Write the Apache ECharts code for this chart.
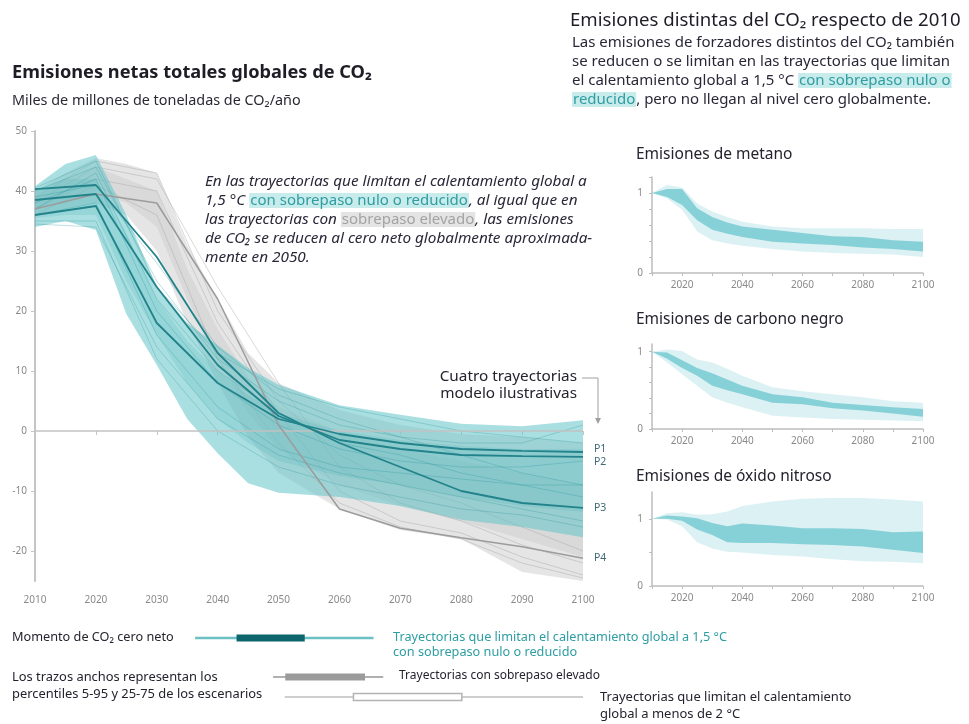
<!DOCTYPE html>
<html>
<head>
<meta charset="utf-8">
<script src="https://cdn.jsdelivr.net/npm/echarts@6/dist/echarts.min.js"></script>
<style>
html, body { margin: 0; padding: 0; background: #fff; }
#chart { width: 969px; height: 724px; }
</style>
</head>
<body>
<div id="chart"></div>
<script>
// ---- datos ----
// emisiones netas de CO2 (Gt CO2/año)
const bandYears = [2010, 2015, 2020, 2025, 2030, 2035, 2040, 2045, 2050, 2060, 2070, 2080, 2090, 2100];
const tealHi   = [40.8, 44.5, 46, 36, 24, 18, 14.3, 10.5, 7.7, 4.3, 2.7, 1.2, 0.8, 1.8];
const tealLo   = [34, 35, 33.5, 19.5, 11, 2, -3.7, -8.7, -10.3, -11, -12.5, -14.8, -16, -17.7];
const tealInHi = [40, 42, 42, 33, 22, 15, 10, 6, 3, 0, -1.5, -2.5, -3, -3];
const tealInLo = [35.5, 36, 36, 25, 16, 8, 2, -2, -5, -7.5, -9, -11, -12.5, -13.5];
const grayHi   = [40, 43, 45.5, 44.5, 43, 31, 22, 13, 8, 3.5, 1, -0.5, -1, -2];
const grayLo   = [36, 37, 38, 36, 30, 18, 8, -1, -7, -13, -16.5, -18, -23.5, -25];
const grayInHi = [39, 42, 44, 42, 40, 27, 17, 9, 4, 0, -3, -5, -7, -9];
const grayInLo = [37, 38, 40, 38, 34, 22, 12, 3, -3, -9, -12.5, -15, -18, -21];

const years = [2010, 2020, 2030, 2040, 2050, 2060, 2070, 2080, 2090, 2100];
const p1 = [36, 37.5, 18, 8, 2, -0.5, -2, -3, -3.3, -3.5];
const p2 = [38.5, 39.5, 24, 11, 2.5, -1.5, -3, -4, -4.2, -4.3];
const p3 = [40.3, 41, 29, 13, 3, -2, -6, -10, -12, -12.8];
const p4 = [37, 39.5, 38, 22, 1, -13, -16.2, -17.8, -19.3, -21.2];

// escenarios individuales (trazos finos)
const tealRuns = [
  [40, 44, 25, 12, 5, 1, -1, -2, -2, 1],
  [38, 42, 20, 8, 1, -3, -5, -6, -6, -5],
  [36, 38, 16, 4, -3, -6, -7, -8, -9, -9],
  [35, 35, 12, 0, -6, -9, -11, -13, -14, -16],
  [39, 41, 28, 14, 6, 2, -1, -4, -7, -9],
  [37, 43, 22, 10, 3, -2, -4, -7, -9, -11],
  [34.5, 34, 14, 2, -4, -7, -9, -11, -13, -15],
  [40.5, 45, 24, 13, 7, 4, 2, 0, -1, -2]
];
const grayRuns = [
  [38, 44, 42, 24, 8, -6, -12, -15, -19, -22],
  [37, 42, 40, 18, 3, -10, -15, -17, -21, -24],
  [39, 45, 43, 20, 5, -4, -9, -12, -16, -20],
  [36, 41, 36, 12, -2, -12, -16, -18, -22, -24.5]
];

// emisiones distintas del CO2, relativas a 2010
const smallYears = [2010, 2015, 2020, 2025, 2030, 2035, 2040, 2050, 2060, 2070, 2080, 2090, 2100];
const metInHi  = [1, 1.05, 1.05, 0.81, 0.70, 0.63, 0.58, 0.54, 0.50, 0.46, 0.45, 0.41, 0.39];
const metInLo  = [1, 0.95, 0.85, 0.66, 0.54, 0.49, 0.45, 0.39, 0.37, 0.35, 0.32, 0.30, 0.27];
const metOutHi = [1, 1.10, 1.07, 0.87, 0.77, 0.70, 0.64, 0.58, 0.56, 0.56, 0.56, 0.55, 0.55];
const metOutLo = [1, 0.93, 0.79, 0.52, 0.41, 0.37, 0.34, 0.30, 0.27, 0.25, 0.24, 0.23, 0.20];

const cbInHi  = [1, 0.99, 0.89, 0.79, 0.72, 0.64, 0.56, 0.45, 0.41, 0.34, 0.31, 0.28, 0.26];
const cbInLo  = [1, 0.91, 0.79, 0.69, 0.56, 0.50, 0.45, 0.34, 0.32, 0.27, 0.24, 0.20, 0.16];
const cbOutHi = [1, 1.03, 1.01, 0.90, 0.86, 0.78, 0.69, 0.54, 0.49, 0.45, 0.41, 0.36, 0.34];
const cbOutLo = [1, 0.86, 0.71, 0.56, 0.41, 0.34, 0.28, 0.17, 0.15, 0.13, 0.12, 0.11, 0.10];

const n2oInHi  = [1, 1.05, 1.035, 1.01, 0.94, 0.89, 0.93, 0.90, 0.86, 0.86, 0.85, 0.80, 0.81];
const n2oInLo  = [1, 1.0, 0.97, 0.84, 0.76, 0.65, 0.64, 0.64, 0.62, 0.61, 0.59, 0.54, 0.49];
const n2oOutHi = [1, 1.085, 1.10, 1.06, 1.07, 1.11, 1.19, 1.26, 1.30, 1.31, 1.31, 1.29, 1.26];
const n2oOutLo = [1, 0.99, 0.89, 0.65, 0.56, 0.51, 0.50, 0.46, 0.44, 0.40, 0.37, 0.36, 0.34];

// momento de CO2 cero neto (años): percentiles 5-95 y 25-75
const zeroTeal5_95 = [2036.3, 2065.6];
const zeroTeal25_75 = [2043.1, 2054.3];
const zeroGray5_95 = [2049.1, 2067.2];
const zeroGray25_75 = [2051.1, 2064.2];
const zero2C5_95 = [2051, 2100];
const zero2C25_75 = [2062.3, 2080.1];

const mainYTicks = [-20, -10, 0, 10, 20, 30, 40, 50];
const smallXLabels = [2020, 2040, 2060, 2080, 2100];

const FONT = '"Noto Sans", "Open Sans", sans-serif';
const TXT = '#24232e';

// banda rellena entre dos curvas
function band(axis, xs, hi, lo, fill, z) {
  return {
    type: 'custom', xAxisIndex: axis, yAxisIndex: axis, silent: true, z: z || 2,
    data: [[xs[0], hi[0]]],
    renderItem: function (params, api) {
      let pts = [];
      for (let i = 0; i < xs.length; i++) pts.push(api.coord([xs[i], hi[i]]));
      for (let i = xs.length - 1; i >= 0; i--) pts.push(api.coord([xs[i], lo[i]]));
      return { type: 'polygon', shape: { points: pts }, style: { fill: fill } };
    }
  };
}

function run(vals, color, width, z) {
  return {
    type: 'line', xAxisIndex: 0, yAxisIndex: 0, silent: true, symbol: 'none', z: z || 3,
    data: years.map((y, i) => [y, vals[i]]),
    lineStyle: { color: color, width: width }
  };
}

function pLine(vals, name, color, width, offY) {
  let s = run(vals, color, width, 5);
  s.endLabel = { show: true, formatter: name, color: '#3e6a77', fontSize: 10.5, fontFamily: FONT, offset: [3, offY] };
  return s;
}

// fila de la leyenda de cero neto
function rangeRow(axis, range, core, thinColor, thinW, fill, stroke) {
  return [
    {
      type: 'line', xAxisIndex: axis, yAxisIndex: axis, silent: true, symbol: 'none',
      data: [[range[0], 0], [range[1], 0]], lineStyle: { color: thinColor, width: thinW }
    },
    {
      type: 'custom', xAxisIndex: axis, yAxisIndex: axis, silent: true, z: 4,
      data: [[core[0], 0]],
      renderItem: function (params, api) {
        const a = api.coord([core[0], 0]);
        const b = api.coord([core[1], 0]);
        return {
          type: 'rect', shape: { x: a[0], y: a[1] - 3.5, width: b[0] - a[0], height: 7 },
          style: { fill: fill, stroke: stroke, lineWidth: stroke ? 1.5 : 0 }
        };
      }
    }
  ];
}

function smallX(i) {
  return {
    gridIndex: i, type: 'value', min: 2010, max: 2100, interval: 10,
    axisLine: { lineStyle: { color: '#bdbdbd', width: 1.5 } },
    axisTick: { length: 3, lineStyle: { color: '#bdbdbd' } },
    axisLabel: { customValues: smallXLabels, formatter: v => String(v), color: '#8a8a8a', fontSize: 10, fontFamily: FONT, margin: 7 },
    splitLine: { show: false }
  };
}
function smallY(i, max, step) {
  let ticks = [];
  for (let v = 0; v <= max + 1e-9; v += step) ticks.push(Math.round(v * 10) / 10);
  return {
    gridIndex: i, type: 'value', min: 0, max: max,
    axisLine: { show: true, lineStyle: { color: '#bdbdbd', width: 1.5 } },
    axisTick: { show: true, length: 3, customValues: ticks, lineStyle: { color: '#bdbdbd' } },
    axisLabel: { customValues: [0, 1], color: '#8a8a8a', fontSize: 10, fontFamily: FONT, margin: 9 },
    splitLine: { show: false }
  };
}
function hiddenX(i) { return { gridIndex: i, type: 'value', min: 2010, max: 2100, show: false }; }
function hiddenY(i) { return { gridIndex: i, type: 'value', min: -1, max: 1, show: false }; }

const TEAL_OUT = 'rgba(100,196,200,0.55)';
const TEAL_IN = 'rgba(70,178,184,0.20)';
const SM_OUT = 'rgba(150,212,218,0.33)';
const SM_IN = 'rgba(105,198,205,0.75)';

let series = [
  // línea de cero
  {
    type: 'line', xAxisIndex: 0, yAxisIndex: 0, data: [], z: 1,
    markLine: { silent: true, symbol: 'none', label: { show: false },
      lineStyle: { color: '#c2c2c2', width: 1.5, type: 'solid' }, data: [{ yAxis: 0 }] }
  },
  band(0, bandYears, grayHi, grayLo, 'rgba(208,208,208,0.55)', 2),
  band(0, bandYears, grayInHi, grayInLo, 'rgba(190,190,190,0.3)', 2)
];
grayRuns.forEach(r => series.push(run(r, 'rgba(160,160,160,0.4)', 1, 2)));
series.push(band(0, bandYears, tealHi, tealLo, TEAL_OUT, 3));
series.push(band(0, bandYears, tealInHi, tealInLo, TEAL_IN, 3));
tealRuns.forEach(r => series.push(run(r, 'rgba(40,150,156,0.3)', 1, 3)));
series.push(pLine(p4, 'P4', '#9c9c9c', 1.5, 0));
series.push(pLine(p1, 'P1', '#23838a', 1.8, -3));
series.push(pLine(p2, 'P2', '#23838a', 1.8, 5));
series.push(pLine(p3, 'P3', '#23838a', 1.8, 0));

// gráficos pequeños
series.push(band(1, smallYears, metOutHi, metOutLo, SM_OUT));
series.push(band(1, smallYears, metInHi, metInLo, SM_IN));
series.push(band(2, smallYears, cbOutHi, cbOutLo, SM_OUT));
series.push(band(2, smallYears, cbInHi, cbInLo, SM_IN));
series.push(band(3, smallYears, n2oOutHi, n2oOutLo, SM_OUT));
series.push(band(3, smallYears, n2oInHi, n2oInLo, SM_IN));

// leyenda cero neto
series = series.concat(rangeRow(4, zeroTeal5_95, zeroTeal25_75, '#6cc0c4', 2.5, '#0d666b', null));
series = series.concat(rangeRow(5, zeroGray5_95, zeroGray25_75, '#b0b0b0', 2, '#9b9b9b', null));
series = series.concat(rangeRow(6, zero2C5_95, zero2C25_75, '#cfcfcf', 2, '#ffffff', '#b3b3b3'));

function txt(x, y, text, size, color, extra) {
  return {
    type: 'text', x: x, y: y, silent: true,
    style: Object.assign({ text: text, fill: color || TXT, fontSize: size, fontFamily: FONT, verticalAlign: 'middle' }, extra || {})
  };
}

const hlTeal = { fill: '#2f9da1', backgroundColor: '#c8ebeb', fontSize: 15, fontFamily: FONT, lineHeight: 19, padding: [0, 1] };

const graphics = [
  txt(12, 73, 'Emisiones netas totales globales de CO₂', 18.2, '#1e1d26', { fontWeight: 'bold' }),
  txt(12, 101, 'Miles de millones de toneladas de CO₂/año', 14.4, '#2a2933'),
  txt(570, 21, 'Emisiones distintas del CO₂ respecto de 2010', 18.6, '#1e1d26'),
  {
    type: 'text', x: 572, y: 33, silent: true,
    style: {
      text: '{n|Las emisiones de forzadores distintos del CO₂ también}\n' +
            '{n|se reducen o se limitan en las trayectorias que limitan}\n' +
            '{n|el calentamiento global a 1,5 °C }{t|con sobrepaso nulo o}\n' +
            '{t|reducido}{n|, pero no llegan al nivel cero globalmente.}',
      fontFamily: FONT, fontSize: 15, lineHeight: 19,
      rich: {
        n: { fill: '#2a2838', fontSize: 15, fontFamily: FONT, lineHeight: 19 },
        t: hlTeal
      }
    }
  },
  txt(636, 155, 'Emisiones de metano', 15.5, '#24232e'),
  txt(636, 320, 'Emisiones de carbono negro', 15.5, '#24232e'),
  txt(636, 477, 'Emisiones de óxido nitroso', 15.5, '#24232e'),
  {
    type: 'text', x: 205, y: 172, silent: true,
    style: {
      text: '{i|En las trayectorias que limitan el calentamiento global a}\n' +
            '{i|1,5 °C }{t|con sobrepaso nulo o reducido}{i|, al igual que en}\n' +
            '{i|las trayectorias con }{g|sobrepaso elevado}{i|, las emisiones}\n' +
            '{i|de CO₂ se reducen al cero neto globalmente aproximada-}\n' +
            '{i|mente en 2050.}',
      fontFamily: FONT, fontSize: 15, lineHeight: 19,
      rich: {
        i: { fill: '#2a2838', fontStyle: 'italic', fontSize: 15.3, fontFamily: FONT, lineHeight: 19 },
        t: hlTeal,
        g: { fill: '#a3a3a3', backgroundColor: '#e4e4e4', fontSize: 15, fontFamily: FONT, lineHeight: 19, padding: [0, 1] }
      }
    }
  },
  {
    type: 'text', x: 577, y: 368, silent: true,
    style: { text: 'Cuatro trayectorias\nmodelo ilustrativas', fill: '#24232e', fontSize: 15.3, fontFamily: FONT,
      lineHeight: 17, align: 'right', verticalAlign: 'top' }
  },
  {
    type: 'polyline', silent: true,
    shape: { points: [[582, 378], [598, 378], [598, 419]] },
    style: { stroke: '#a0a0a0', lineWidth: 1, fill: null }
  },
  {
    type: 'polygon', silent: true,
    shape: { points: [[595, 418], [601, 418], [598, 424]] },
    style: { fill: '#a0a0a0' }
  },
  txt(12, 637, 'Momento de CO₂ cero neto', 12.7),
  txt(12, 677, 'Los trazos anchos representan los', 12.9),
  txt(12, 694, 'percentiles 5-95 y 25-75 de los escenarios', 12.9),
  txt(393, 637, 'Trayectorias que limitan el calentamiento global a 1,5 °C', 12.7, '#2d9ea2'),
  txt(393, 652, 'con sobrepaso nulo o reducido', 12.7, '#2d9ea2'),
  txt(399, 676, 'Trayectorias con sobrepaso elevado', 12),
  txt(600, 697, 'Trayectorias que limitan el calentamiento', 13),
  txt(600, 714, 'global a menos de 2 °C', 13)
];

const option = {
  backgroundColor: '#fff',
  animation: false,
  grid: [
    { left: 35, top: 131, width: 548, height: 450 },
    { left: 652, top: 177, width: 271, height: 96 },
    { left: 652, top: 344, width: 271, height: 85 },
    { left: 652, top: 492, width: 271, height: 94 },
    { left: 35, top: 632, width: 548, height: 12 },
    { left: 35, top: 671, width: 548, height: 12 },
    { left: 35, top: 691, width: 548, height: 12 }
  ],
  xAxis: [
    {
      gridIndex: 0, type: 'value', min: 2010, max: 2100, interval: 10,
      axisLine: { show: false },
      axisTick: { show: true, length: 4, lineStyle: { color: '#c4c4c4' } },
      axisLabel: { formatter: v => String(v), color: '#8a8a8a', fontSize: 10, fontFamily: FONT, margin: 14 },
      splitLine: { show: false }
    },
    smallX(1), smallX(2), smallX(3),
    hiddenX(4), hiddenX(5), hiddenX(6)
  ],
  yAxis: [
    {
      gridIndex: 0, type: 'value', min: -25, max: 50,
      axisLine: { show: true, lineStyle: { color: '#c4c4c4', width: 2 } },
      axisTick: { show: true, length: 4, customValues: mainYTicks, lineStyle: { color: '#c4c4c4' } },
      axisLabel: { customValues: mainYTicks, color: '#8a8a8a', fontSize: 10, fontFamily: FONT, margin: 8 },
      splitLine: { show: false }
    },
    smallY(1, 1.2, 0.2), smallY(2, 1.1, 0.2), smallY(3, 1.4, 0.5),
    hiddenY(4), hiddenY(5), hiddenY(6)
  ],
  graphic: graphics,
  series: series
};

const chart = echarts.init(document.getElementById('chart'));
chart.setOption(option);
window.addEventListener('resize', function () { chart.resize(); });
</script>
</body>
</html>
